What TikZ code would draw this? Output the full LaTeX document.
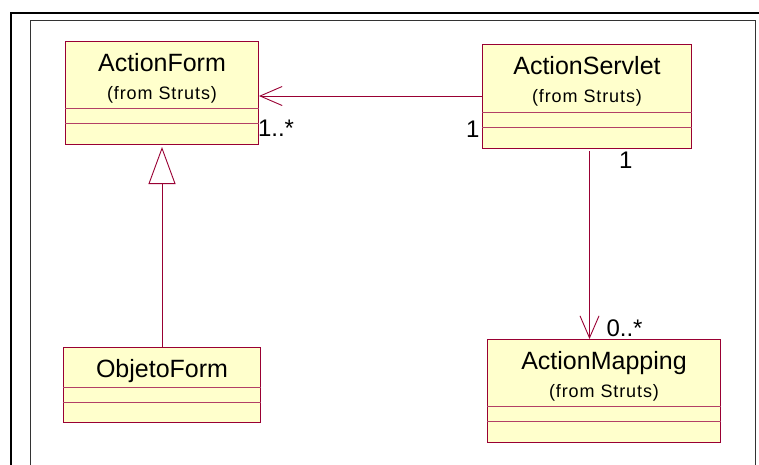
\documentclass[tikz,border=0pt]{standalone}
\usepackage{fontspec}
\setmainfont{Liberation Sans}
\newfontfamily\fromfont[LetterSpace=5]{Liberation Sans}
\usetikzlibrary{arrows.meta}
\definecolor{rosered}{HTML}{990033}
\definecolor{roseyel}{HTML}{FFFFCC}

\begin{document}
\begin{tikzpicture}[x=1pt,y=-1pt,
  cls/.style={draw=rosered,fill=roseyel,line width=1pt,anchor=north west,inner sep=0pt},
  sep/.style={draw=rosered!75,line width=0.9pt},
  cname/.style={anchor=base,font=\fontsize{25}{30}\selectfont},
  pkg/.style={anchor=base,font=\fromfont\fontsize{18}{22}\selectfont},
  mult/.style={anchor=base west,font=\fontsize{24}{28}\selectfont},
  assoc/.style={draw=rosered,line width=0.9pt,-{Straight Barb[length=22pt,width=19pt]}},
  gen/.style={draw=rosered,line width=0.9pt,-{Triangle[open,length=37pt,width=27pt]}}]
\useasboundingbox (0,0) rectangle (759,464);
% page frame
\draw[line width=2.5pt] (11,480) -- (11,13) -- (780,13);
\draw[line width=0.8pt,black!80] (30,480) -- (30,20) -- (755.5,20) -- (755.5,480);

% classes
\node[cls,minimum width=193pt,minimum height=103pt] (form) at (65,41) {};
\draw[sep] ([yshift=-67pt]form.north west) -- ([yshift=-67pt]form.north east);
\draw[sep] ([yshift=-82pt]form.north west) -- ([yshift=-82pt]form.north east);
\node[cname] (form-title) at ([yshift=-30pt]form.north) {ActionForm};
\node[pkg] (form-pkg) at ([yshift=-58pt]form.north) {(from Struts)};

\node[cls,minimum width=209pt,minimum height=104pt] (servlet) at (482,44) {};
\draw[sep] ([yshift=-68pt]servlet.north west) -- ([yshift=-68pt]servlet.north east);
\draw[sep] ([yshift=-83pt]servlet.north west) -- ([yshift=-83pt]servlet.north east);
\node[cname] (servlet-title) at ([yshift=-30pt]servlet.north) {ActionServlet};
\node[pkg] (servlet-pkg) at ([yshift=-58pt]servlet.north) {(from Struts)};

\node[cls,minimum width=197pt,minimum height=75pt] (objeto) at (63,347) {};
\draw[sep] ([yshift=-40pt]objeto.north west) -- ([yshift=-40pt]objeto.north east);
\draw[sep] ([yshift=-55pt]objeto.north west) -- ([yshift=-55pt]objeto.north east);
\node[cname] (objeto-title) at ([yshift=-30pt]objeto.north) {ObjetoForm};

\node[cls,minimum width=233pt,minimum height=103pt] (mapping) at (487,339) {};
\draw[sep] ([yshift=-67pt]mapping.north west) -- ([yshift=-67pt]mapping.north east);
\draw[sep] ([yshift=-82pt]mapping.north west) -- ([yshift=-82pt]mapping.north east);
\node[cname] (mapping-title) at ([yshift=-30pt]mapping.north) {ActionMapping};
\node[pkg] (mapping-pkg) at ([yshift=-58pt]mapping.north) {(from Struts)};

% relations
\draw[assoc] ([yshift=-52pt]servlet.north west) -- ([yshift=-55pt]form.north east);
\draw[assoc] ([xshift=2.5pt,yshift=-2pt]servlet.south) -- ([xshift=2.5pt]servlet.south |- mapping.north);
\draw[gen] (objeto.north) -- ([yshift=-2pt]form.south);

% multiplicities
\node[mult] (form-mult) at (254.5,136) {1..*};
\node[mult] (servlet-mult-a) at (462.5,137) {1};
\node[mult] (servlet-mult-b) at (615.5,168) {1};
\node[mult] (mapping-mult) at (603,336) {0..*};
\end{tikzpicture}
\end{document}
